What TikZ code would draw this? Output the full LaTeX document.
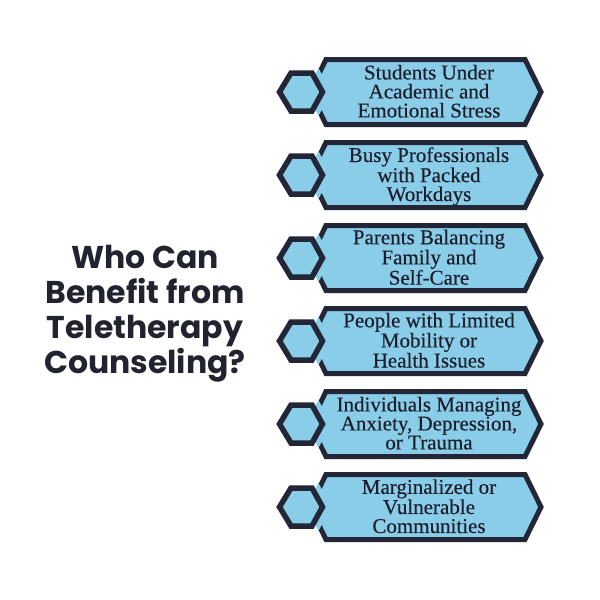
\documentclass[tikz,border=0pt]{standalone}
\usepackage{fontspec}
\setmainfont{Liberation Serif}
\newfontfamily\boxfont{Liberation Serif}[FakeBold=0.3]
\newfontfamily\titlefont{Poppins}
\definecolor{tealfill}{RGB}{137,205,232}
\definecolor{navy}{RGB}{35,38,55}
\definecolor{inktext}{RGB}{28,30,44}
\definecolor{titleink}{RGB}{35,35,48}
\tikzset{
  boxshape/.style={fill=tealfill, draw=navy, line width=5pt, line join=miter},
  halo/.style={draw=tealfill, line width=16pt, line join=round},
  hexshape/.style={fill=tealfill, draw=navy, line width=5.5pt, line join=miter},
  boxtext/.style={font=\boxfont\fontsize{21}{19}\selectfont, text=inktext, align=center, inner sep=0pt},
  titletext/.style={font=\titlefont\bfseries\fontsize{31.5}{35}\selectfont, text=titleink, align=center, inner sep=0pt}
}
\newcommand\benefitbox[3]{%
  \begin{scope}[shift={(0,#2)}]
    \path[boxshape] (326,-32.5) -- (525,-32.5) -- (541,0) -- (525,32.5) -- (326,32.5) -- (310,0) -- cycle;
    \begin{scope}
      \clip (324.1,-35.5) -- (400,-35.5) -- (400,35.5) -- (324.1,35.5) -- (306.6,0) -- cycle;
      \draw[halo] (279.5,0) -- (291,-19) -- (312,-19) -- (322.5,0) -- (312,19) -- (291,19) -- cycle;
    \end{scope}
    \draw[hexshape] (279.5,0) -- (291,-19) -- (312,-19) -- (322.5,0) -- (312,19) -- (291,19) -- cycle;
    \node[boxtext] (#1) at (429,2) {#3};
  \end{scope}}
\begin{document}
\begin{tikzpicture}[x=1pt,y=-1pt]
\useasboundingbox (0,0) rectangle (600,600);
\fill[white] (0,0) rectangle (600,600);
\node[titletext] (title) at (145,314) {Who Can\\Benefit from\\Teletherapy\\Counseling?};
\benefitbox{b1}{92}{Students Under\\Academic and\\Emotional Stress\strut}
\benefitbox{b2}{175}{Busy Professionals\\with Packed\\Workdays\strut}
\benefitbox{b3}{258}{Parents Balancing\\Family and\\Self-Care\strut}
\benefitbox{b4}{341}{People with Limited\\Mobility or\\Health Issues\strut}
\benefitbox{b5}{424}{Individuals Managing\\Anxiety, Depression,\\or Trauma\strut}
\benefitbox{b6}{507}{Marginalized or\\Vulnerable\\Communities\strut}
\end{tikzpicture}
\end{document}
